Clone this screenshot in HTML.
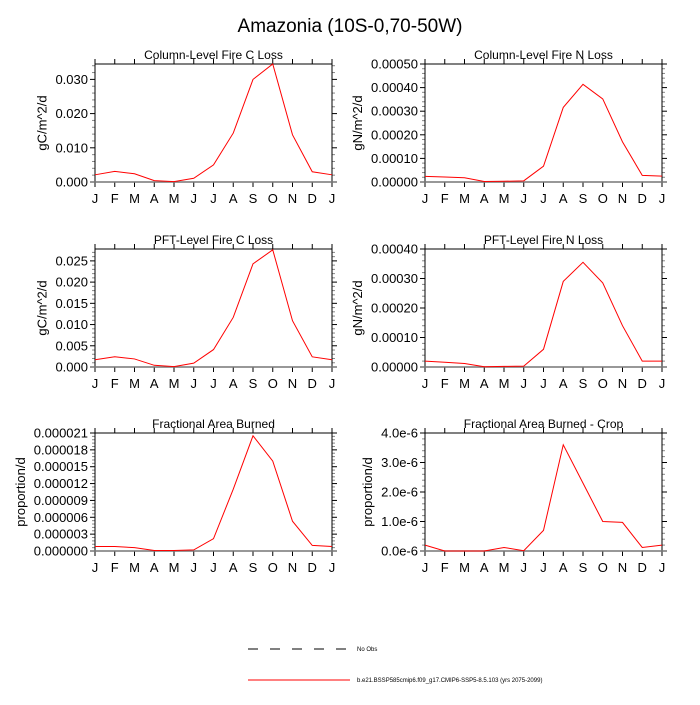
<!DOCTYPE html>
<html><head><meta charset="utf-8"><style>
html,body{margin:0;padding:0;background:#fff;}
svg text{font-family:"Liberation Sans",sans-serif;fill:#000;}
</style></head><body>
<svg id="chart" width="700" height="700" viewBox="0 0 700 700">
<text x="350" y="32" font-size="19" text-anchor="middle">Amazonia (10S-0,70-50W)</text>
<g id="panels"></g>
<g>
<line x1="248" y1="649" x2="350" y2="649" stroke="#000" stroke-width="1" stroke-dasharray="10,12"/>
<text x="357" y="651" font-size="6">No Obs</text>
<line x1="248" y1="680" x2="350" y2="680" stroke="#f00" stroke-width="1"/>
<text x="357" y="682" font-size="6">b.e21.BSSP585cmip6.f09_g17.CMIP6-SSP5-8.5.103 (yrs 2075-2099)</text>
</g>
</svg>
<script>
const months = ["J","F","M","A","M","J","J","A","S","O","N","D","J"];
const colCLoss = [0.0021,0.0031,0.0024,0.0004,0.0001,0.0011,0.005,0.0143,0.030,0.0345,0.0138,0.003,0.0021];
const colNLoss = [0.000024,0.000021,0.000018,0.000002,0.000003,0.000005,0.000067,0.000316,0.000414,0.000352,0.00017,0.000028,0.000025];
const pftCLoss = [0.0017,0.0024,0.0019,0.0004,0.0001,0.0009,0.0041,0.0117,0.0243,0.0276,0.0109,0.0024,0.0017];
const pftNLoss = [0.00002,0.000016,0.000012,0.000001,0.000002,0.000003,0.00006,0.00029,0.000355,0.000285,0.00014,0.00002,0.00002];
const areaBurned = [0.0000008,0.0000008,0.0000006,0.0000001,0.0000001,0.0000002,0.0000022,0.000011,0.0000205,0.000016,0.0000053,0.000001,0.0000008];
const areaBurnedCrop = [2e-7,0,0,0,1.2e-7,1e-8,7e-7,3.6e-6,2.3e-6,1.0e-6,0.97e-6,1.2e-7,2e-7];
const ticks1 = ["0.000","0.010","0.020","0.030"];
const ticks2 = ["0.00000","0.00010","0.00020","0.00030","0.00040","0.00050"];
const ticks3 = ["0.000","0.005","0.010","0.015","0.020","0.025"];
const ticks4 = ["0.00000","0.00010","0.00020","0.00030","0.00040"];
const ticks5 = ["0.000000","0.000003","0.000006","0.000009","0.000012","0.000015","0.000018","0.000021"];
const ticks6 = ["0.0e-6","1.0e-6","2.0e-6","3.0e-6","4.0e-6"];
const tickVals1=[0,0.01,0.02,0.03], tickVals2=[0,0.0001,0.0002,0.0003,0.0004,0.0005], tickVals3=[0,0.005,0.01,0.015,0.02,0.025], tickVals4=[0,0.0001,0.0002,0.0003,0.0004], tickVals5=[0,3e-6,6e-6,9e-6,12e-6,15e-6,18e-6,21e-6], tickVals6=[0,1e-6,2e-6,3e-6,4e-6];

const NS="http://www.w3.org/2000/svg";
const root=document.getElementById('panels');
function mk(tag,attrs,parent){const e=document.createElementNS(NS,tag);for(const k in attrs)e.setAttribute(k,attrs[k]);parent.appendChild(e);return e;}

const panels=[
 {title:"Column-Level Fire C Loss",unit:"gC/m^2/d",data:colCLoss,labels:ticks1,vals:tickVals1,ymax:0.0345,x0:95,y0:64,name:"column-c-loss"},
 {title:"Column-Level Fire N Loss",unit:"gN/m^2/d",data:colNLoss,labels:ticks2,vals:tickVals2,ymax:0.0005,x0:425,y0:64,name:"column-n-loss"},
 {title:"PFT-Level Fire C Loss",unit:"gC/m^2/d",data:pftCLoss,labels:ticks3,vals:tickVals3,ymax:0.0278,x0:95,y0:249,name:"pft-c-loss"},
 {title:"PFT-Level Fire N Loss",unit:"gN/m^2/d",data:pftNLoss,labels:ticks4,vals:tickVals4,ymax:0.0004,x0:425,y0:249,name:"pft-n-loss"},
 {title:"Fractional Area Burned",unit:"proportion/d",data:areaBurned,labels:ticks5,vals:tickVals5,ymax:0.000021,x0:95,y0:433,name:"area-burned"},
 {title:"Fractional Area Burned - Crop",unit:"proportion/d",data:areaBurnedCrop,labels:ticks6,vals:tickVals6,ymax:0.000004,x0:425,y0:433,name:"area-burned-crop"}
];
const W=237,H=118;
panels.forEach(p=>{
 const g=mk('g',{},root);
 
 
 const xs=i=>p.x0+i*W/12;
 const ys=v=>p.y0+H-v/p.ymax*H;
 const t=mk('text',{x:p.x0+W/2,y:p.y0-5,'font-size':12,'text-anchor':'middle'},g);t.textContent=p.title;
 
 
 let minLeft=p.x0;
 p.vals.forEach((v,i)=>{
  const y=ys(v);
  mk('line',{x1:p.x0-5,x2:p.x0,y1:y,y2:y,stroke:'#000'},g);
  mk('line',{x1:p.x0+W,x2:p.x0+W+5,y1:y,y2:y,stroke:'#000'},g);
  const l=mk('text',{x:p.x0-7,y:y+4.5,'font-size':13,'text-anchor':'end'},g);l.textContent=p.labels[i];
  
  
  const bb=l.getBBox();if(bb.x<minLeft)minLeft=bb.x;
  if(i<p.vals.length-1){const st=(p.vals[1]-p.vals[0])/5;for(let k=1;k<5;k++){const yy=ys(v+st*k);if(yy<p.y0)break;
   mk('line',{x1:p.x0-3,x2:p.x0,y1:yy,y2:yy,stroke:'#888'},g);mk('line',{x1:p.x0+W,x2:p.x0+W+3,y1:yy,y2:yy,stroke:'#888'},g);}}
 });
 {const st=(p.vals[1]-p.vals[0])/5;let v=p.vals[p.vals.length-1]+st;while(v<p.ymax){const yy=ys(v);mk('line',{x1:p.x0-3,x2:p.x0,y1:yy,y2:yy,stroke:'#888'},g);mk('line',{x1:p.x0+W,x2:p.x0+W+3,y1:yy,y2:yy,stroke:'#888'},g);v+=st;}}
 const tx=Math.max(minLeft-9, 14);
 const yt=mk('text',{x:0,y:0,'font-size':13,'text-anchor':'middle',transform:`translate(${tx},${p.y0+H/2}) rotate(-90)`},g);yt.textContent=p.unit;
 
 
 months.forEach((m,i)=>{
  const x=xs(i);
  mk('line',{x1:x,x2:x,y1:p.y0+H,y2:p.y0+H+5,stroke:'#000'},g);
  mk('line',{x1:x,x2:x,y1:p.y0-5,y2:p.y0,stroke:'#000'},g);
  const l=mk('text',{x:x,y:p.y0+H+21,'font-size':13,'text-anchor':'middle'},g);l.textContent=m;
  
  
 });
 mk('rect',{x:p.x0,y:p.y0,width:W,height:H,fill:'none',stroke:'#000','stroke-width':1},g);
 mk('line',{x1:p.x0-5,x2:p.x0+W+5,y1:p.y0+H,y2:p.y0+H,stroke:'#777','stroke-width':1.5},g);
 const pl=mk('polyline',{points:p.data.map((v,i)=>xs(i)+','+ys(v)).join(' '),fill:'none',stroke:'#f00','stroke-width':1},g);
 
 
});
</script>
</body></html>
